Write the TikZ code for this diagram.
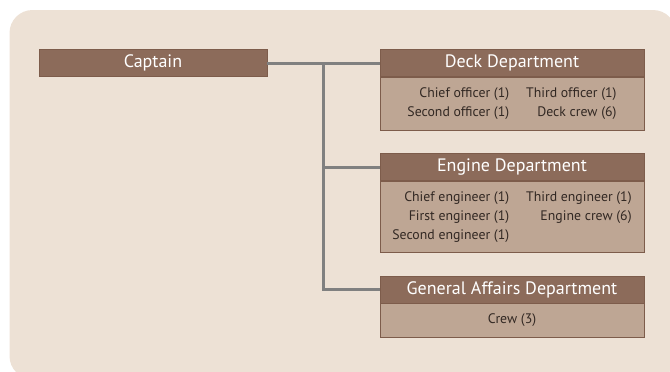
\documentclass[tikz,border=0pt]{standalone}
\usepackage{fontspec}
\setmainfont{PT Sans}
\definecolor{shipbg}{RGB}{237,225,213}
\definecolor{shipbrown}{RGB}{140,107,90}
\definecolor{shipbody}{RGB}{190,166,148}
\definecolor{shipedge}{RGB}{125,92,75}
\definecolor{shiptext}{RGB}{50,40,35}
\definecolor{shipgray}{RGB}{128,128,128}
\usetikzlibrary{positioning}

\begin{document}
\begin{tikzpicture}[
  x=1pt,y=-1pt,
  every node/.style={font=\fontsize{13.8}{19}\selectfont},
  hdrbox/.style={draw=shipedge,fill=shipbrown,text=white,minimum width=264pt,
                 minimum height=27pt,inner sep=0pt,font=\fontsize{18}{19}\selectfont},
  bodybox/.style={draw=shipedge,fill=shipbody,text=shiptext,minimum width=264pt,
                  align=center,inner sep=0pt},
  conn/.style={draw=shipgray,line width=3pt},
]
  \useasboundingbox (0,0) rectangle (670,372);
  \clip (0,0) rectangle (670,372);

  % Background panel
  \fill[shipbg,rounded corners=23pt] (9.5,10) rectangle (676,379);

  % Captain
  \node[hdrbox,minimum width=228pt] (captain) at (153,63) {Captain};

  % Deck department
  \node[hdrbox] (deckhd) at (512,63) {Deck Department};
  \node[bodybox,minimum height=53pt,below=0pt of deckhd] (deckbd)
    {\begin{tabular}{@{}r@{\hspace{17pt}}r@{}}
       Chief officer (1) & Third officer (1)\\
       Second officer (1) & Deck crew (6)
     \end{tabular}};

  % Engine department
  \node[hdrbox] (enginehd) at (512,167) {Engine Department};
  \node[bodybox,minimum height=71pt,below=0pt of enginehd] (enginebd)
    {\begin{tabular}{@{}r@{\hspace{17pt}}r@{}}
       Chief engineer (1) & Third engineer (1)\\
       First engineer (1) & Engine crew (6)\\
       Second engineer (1) &
     \end{tabular}};

  % General affairs department
  \node[hdrbox] (generalhd) at (512,289.5) {General Affairs Department};
  \node[bodybox,minimum height=34pt,below=0pt of generalhd] (generalbd) {Crew (3)};

  % Connectors
  \coordinate (trunk) at (323.5,63);
  \draw[conn] (captain.east) -- (deckhd.west);
  \draw[conn] (trunk) |- (enginehd.west);
  \draw[conn] (trunk) |- (generalhd.west);
\end{tikzpicture}
\end{document}
